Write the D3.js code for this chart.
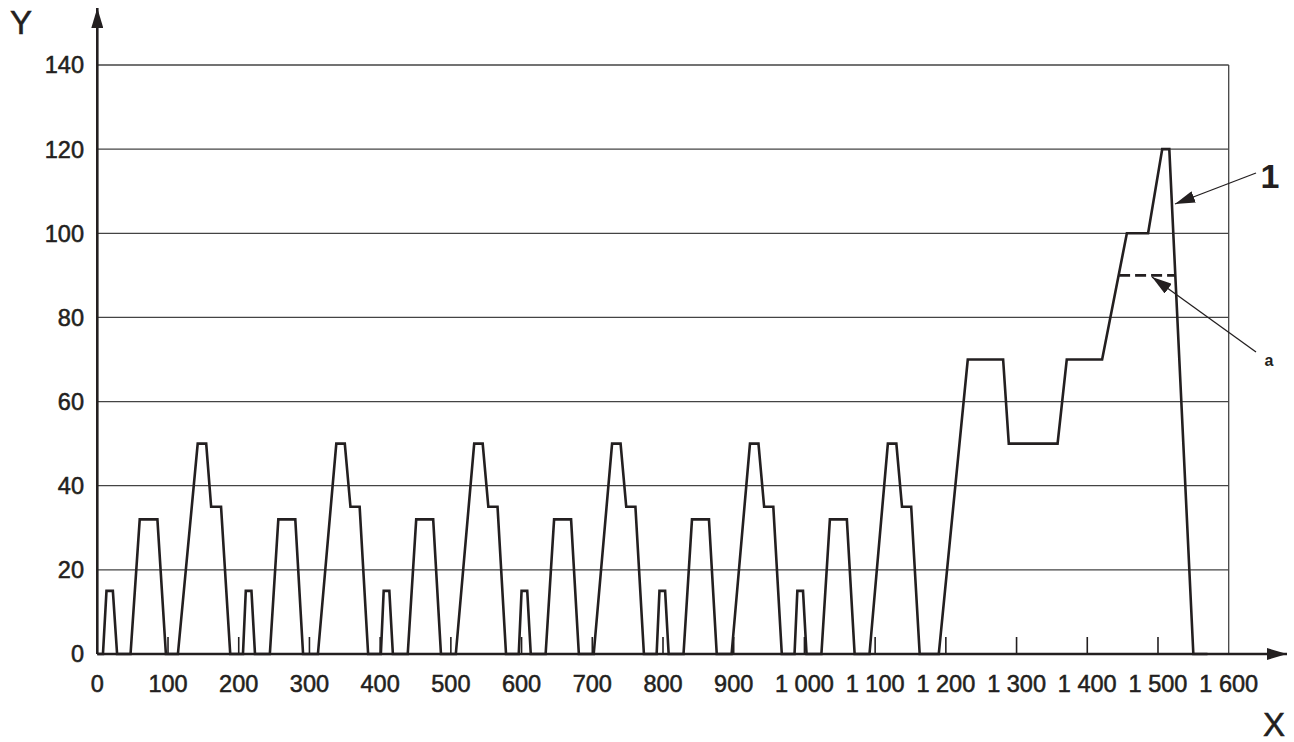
<!DOCTYPE html>
<html>
<head>
<meta charset="utf-8">
<script src="https://cdn.jsdelivr.net/npm/d3@7"></script>
<style>
  html, body { margin: 0; padding: 0; background: #fff; }
  svg { display: block; font-family: "Liberation Sans", Arial, sans-serif; }
  .lbl { stroke: #231f20; stroke-width: 0.55; paint-order: stroke; }
</style>
</head>
<body>
<svg id="chart" width="1294" height="742"></svg>
<script>
// --- DATA ---
const time = [
  0, 8, 13, 22, 28, 47, 60, 85, 97, 114, 142, 154, 161, 175, 188,
  206, 210, 218, 223, 244, 256, 280, 291, 312, 338, 350, 358, 371, 383,
  401, 405, 413, 418, 439, 451, 475, 486, 507, 533, 545, 553, 566, 578,
  596, 600, 608, 613, 634, 646, 670, 681, 702, 728, 740, 748, 761, 773,
  791, 795, 803, 808, 829, 841, 865, 876, 897, 923, 935, 943, 956, 968,
  986, 990, 998, 1003, 1024, 1036, 1060, 1071, 1092, 1118, 1130, 1138, 1151, 1163,
  1190, 1231, 1281, 1289, 1358, 1371, 1421, 1456, 1486, 1506, 1516, 1550, 1570
];
const speed = [
  0, 0, 15, 15, 0, 0, 32, 32, 0, 0, 50, 50, 35, 35, 0,
  0, 15, 15, 0, 0, 32, 32, 0, 0, 50, 50, 35, 35, 0,
  0, 15, 15, 0, 0, 32, 32, 0, 0, 50, 50, 35, 35, 0,
  0, 15, 15, 0, 0, 32, 32, 0, 0, 50, 50, 35, 35, 0,
  0, 15, 15, 0, 0, 32, 32, 0, 0, 50, 50, 35, 35, 0,
  0, 15, 15, 0, 0, 32, 32, 0, 0, 50, 50, 35, 35, 0,
  0, 70, 70, 50, 50, 70, 70, 100, 100, 120, 120, 0, 0
];
// dashed limit "a"
const limitTime = [1445, 1525];
const limitSpeed = [90, 90];

const xTicks = d3.range(0, 1601, 100);
const yTicks = d3.range(0, 141, 20);
const marks = d3.range(100, 1501, 100);

// --- SETUP ---
const svg = d3.select("#chart");
const ink = "#231f20";
const x = d3.scaleLinear().domain([0, 1600]).range([97.3, 1228.7]);
const y = d3.scaleLinear().domain([0, 140]).range([654, 65]);
const fmt = d3.formatLocale({ decimal: ".", thousands: " ", grouping: [3], currency: ["", ""] }).format(",");

svg.append("defs").html(`
  <marker id="axisHead" viewBox="0 0 20 12" refX="20" refY="6" markerWidth="20" markerHeight="12" markerUnits="userSpaceOnUse" orient="auto">
    <path d="M0,0L20,6L0,12Z" fill="${ink}"/>
  </marker>
  <marker id="callHead" viewBox="0 0 20 12" refX="20" refY="6" markerWidth="20" markerHeight="12" markerUnits="userSpaceOnUse" orient="auto">
    <path d="M0,0L20,6L0,12Z" fill="${ink}"/>
  </marker>`);

// grid
svg.append("g").selectAll("line").data(yTicks.filter(d => d > 0)).join("line")
  .attr("x1", x(0)).attr("x2", x(1600))
  .attr("y1", d => y(d)).attr("y2", d => y(d))
  .attr("stroke", "#444").attr("stroke-width", 1.3);
svg.append("line")
  .attr("x1", x(1600)).attr("x2", x(1600)).attr("y1", y(0)).attr("y2", y(140))
  .attr("stroke", "#444").attr("stroke-width", 1.3);

// small ticks on the time axis
svg.append("g").selectAll("line").data(marks).join("line")
  .attr("x1", d => x(d)).attr("x2", d => x(d))
  .attr("y1", y(0)).attr("y2", y(0) - 17)
  .attr("stroke", ink).attr("stroke-width", 1.6);

// axes
svg.append("line")
  .attr("x1", x(0)).attr("y1", y(0)).attr("x2", 1287).attr("y2", y(0))
  .attr("stroke", ink).attr("stroke-width", 2.6).attr("marker-end", "url(#axisHead)");
svg.append("line")
  .attr("x1", x(0)).attr("y1", y(0)).attr("x2", x(0)).attr("y2", 8)
  .attr("stroke", ink).attr("stroke-width", 2.6).attr("marker-end", "url(#axisHead)");

// tick labels
svg.append("g").selectAll("text").data(yTicks).join("text")
  .attr("class", "lbl")
  .attr("x", 84).attr("y", d => y(d)).attr("dy", "0.36em")
  .attr("text-anchor", "end").attr("font-size", 23.5).attr("fill", ink)
  .text(d => d);
svg.append("g").selectAll("text").data(xTicks).join("text")
  .attr("class", "lbl")
  .attr("x", d => x(d)).attr("y", 692)
  .attr("text-anchor", "middle").attr("font-size", 23.5).attr("fill", ink)
  .text(d => fmt(d));

svg.append("text").attr("class", "lbl").attr("x", 21).attr("y", 34).attr("text-anchor", "middle")
  .attr("font-size", 33).attr("fill", ink).text("Y");
svg.append("text").attr("class", "lbl").attr("x", 1274).attr("y", 736).attr("text-anchor", "middle")
  .attr("font-size", 33).attr("fill", ink).text("X");

// speed trace
const line = d3.line().x(d => x(d[0])).y(d => y(d[1]));
svg.append("path")
  .datum(d3.zip(time, speed))
  .attr("d", line)
  .attr("fill", "none").attr("stroke", ink).attr("stroke-width", 2.6)
  .attr("stroke-linejoin", "miter");

svg.append("path")
  .datum(d3.zip(limitTime, limitSpeed))
  .attr("d", line)
  .attr("fill", "none").attr("stroke", ink).attr("stroke-width", 2.6)
  .attr("stroke-dasharray", "11 5");

// callouts
svg.append("line")
  .attr("x1", 1256).attr("y1", 173).attr("x2", 1175).attr("y2", 204)
  .attr("stroke", ink).attr("stroke-width", 1.3).attr("marker-end", "url(#callHead)");
svg.append("text").attr("x", 1270).attr("y", 188).attr("text-anchor", "middle")
  .attr("font-size", 34).attr("font-weight", "bold").attr("fill", ink).text("1");

svg.append("line")
  .attr("x1", 1256).attr("y1", 352).attr("x2", 1152).attr("y2", 277)
  .attr("stroke", ink).attr("stroke-width", 1.3).attr("marker-end", "url(#callHead)");
svg.append("text").attr("x", 1269).attr("y", 366).attr("text-anchor", "middle")
  .attr("font-size", 16).attr("font-weight", "bold").attr("fill", ink).text("a");
</script>
</body>
</html>
